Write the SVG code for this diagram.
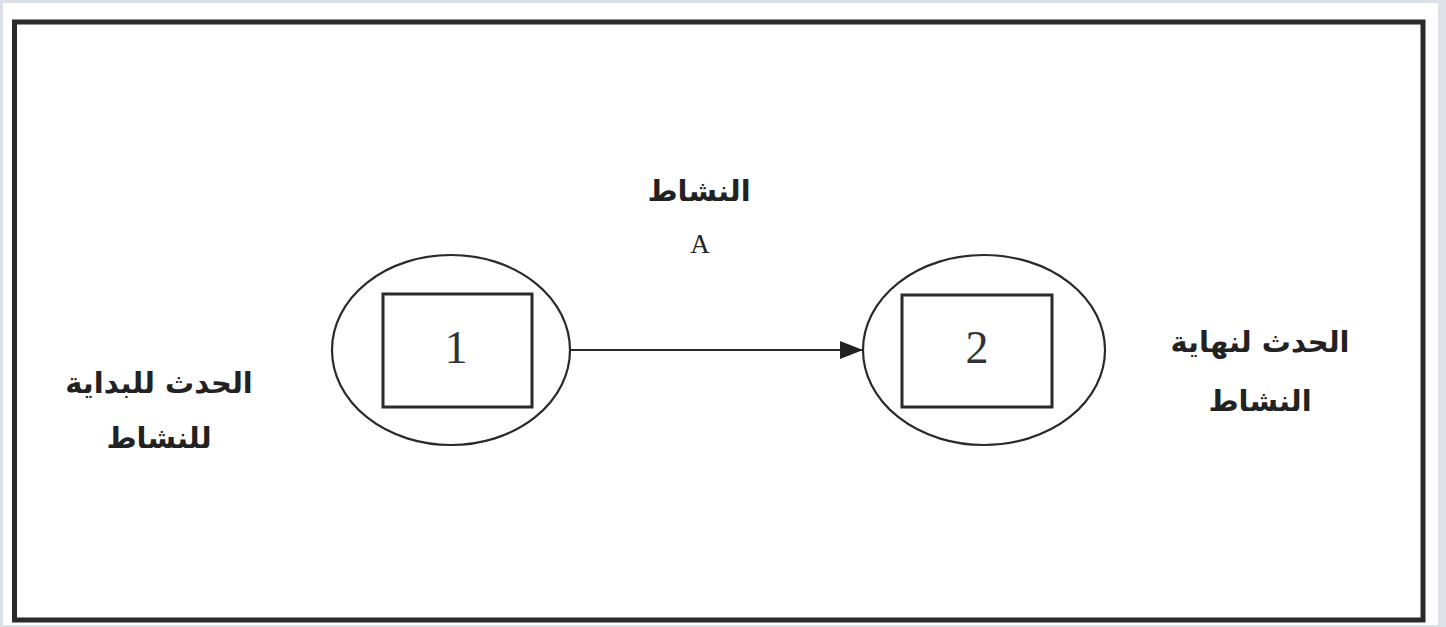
<svg xmlns="http://www.w3.org/2000/svg" width="1446" height="627" viewBox="0 0 1446 627">
<defs>
<style>
.frame{fill:none;stroke:#2a2a2a;stroke-width:5}
.node{fill:#fff;stroke:#2a2a2a;stroke-width:2.2}
.box{fill:#fff;stroke:#2a2a2a;stroke-width:3}
.num{font-family:"Liberation Serif",serif;font-size:46px;fill:#333;text-anchor:middle}
.lat{font-family:"Liberation Serif",serif;font-size:27px;fill:#222;text-anchor:middle}
.ar{font-family:"DejaVu Sans",sans-serif;font-weight:bold;font-size:29px;fill:#222;text-anchor:middle;direction:rtl}
.edge{stroke:#2a2a2a;stroke-width:2;fill:none}
</style>
<marker id="arrow" markerWidth="24" markerHeight="20" refX="23" refY="10" orient="auto" markerUnits="userSpaceOnUse">
<path d="M0,1 L23,10 L0,19 Z" fill="#222"/>
</marker>
</defs>
<rect x="0" y="0" width="1446" height="627" fill="#dde1e8"/>
<rect x="3" y="3" width="1435" height="622" fill="#fff"/>
<rect class="frame" x="14.5" y="22" width="1408.5" height="598"/>
<g id="connectors">
<line class="edge" x1="570" y1="350" x2="863" y2="350" marker-end="url(#arrow)"/>
</g>
<g id="node1">
<ellipse class="node" cx="451" cy="350" rx="119" ry="95"/>
<rect class="box" x="383" y="294" width="149" height="113"/>
<text class="num" x="456" y="363">1</text>
</g>
<g id="node2">
<ellipse class="node" cx="984" cy="350" rx="121" ry="95"/>
<rect class="box" x="902" y="295" width="150" height="112"/>
<text class="num" x="977" y="363">2</text>
</g>
<g id="label-activity">
<text class="ar" x="699" y="201">النشاط</text>
<text class="lat" x="700" y="253">A</text>
</g>
<g id="label-start">
<text class="ar" x="159" y="393">الحدث للبداية</text>
<text class="ar" x="159" y="448">للنشاط</text>
</g>
<g id="label-end">
<text class="ar" x="1260" y="352">الحدث لنهاية</text>
<text class="ar" x="1260" y="411">النشاط</text>
</g>
</svg>
